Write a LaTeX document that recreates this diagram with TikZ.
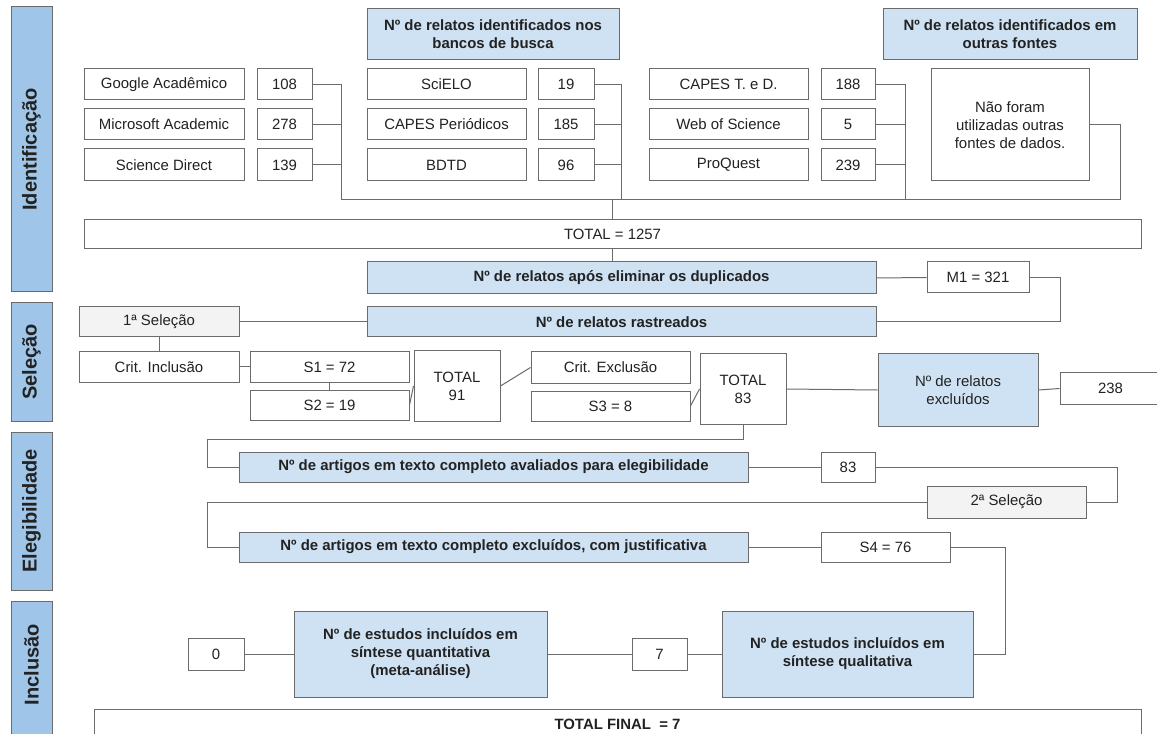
\documentclass[tikz,border=0pt]{standalone}
\usepackage{fontspec}
\setmainfont{Liberation Sans}
\usepackage{graphicx}
\definecolor{barblue}{HTML}{9FC5E8}
\definecolor{boxblue}{HTML}{CFE2F3}
\definecolor{boxgray}{HTML}{F3F3F3}
\definecolor{edgegray}{HTML}{6B6B6B}
\definecolor{ink}{HTML}{222222}
\begin{document}
\begin{tikzpicture}[x=0.75pt,y=-0.75pt,
  every node/.style={font=\fontsize{11.2}{13.5}\selectfont, text=ink},
  spanbox/.style n args={4}{at={({(#1+#3)/2},{(#2+#4)/2})},
     minimum width={(#3-#1)*0.75pt}, minimum height={(#4-#2)*0.75pt}},
  basebox/.style={draw=edgegray, line width=0.75pt, inner sep=0pt, align=center, anchor=center},
  whitebox/.style={basebox, fill=white},
  graybox/.style={basebox, fill=boxgray},
  bluebox/.style={basebox, fill=boxblue, font=\fontsize{11.2}{13.5}\selectfont\bfseries},
  bluereg/.style={basebox, fill=boxblue},
  sidebar/.style={basebox, fill=barblue, font=\fontsize{15}{18}\selectfont\bfseries},
  conn/.style={draw=edgegray, line width=0.75pt}]
\useasboundingbox (0,0) rectangle (1157,734);
\clip (0,0) rectangle (1157,734);
\fill[white] (0,0) rectangle (1157,734);

% side bars
\node[sidebar, spanbox={11}{7}{52}{292}] (sid) {\rotatebox{90}{Identificação}};
\node[sidebar, spanbox={11}{303}{52}{421}] (ssel) {\rotatebox{90}{Seleção}};
\node[sidebar, spanbox={11}{432}{52}{590}] (seleg) {\rotatebox{90}{Elegibilidade}};
\node[sidebar, spanbox={11}{601}{52}{728}] (sinc) {\rotatebox{90}{Inclusão}};
\draw[draw=edgegray, line width=0.75pt, fill=barblue] (11,727) rectangle (52,745);
\fill[barblue] (11.5,722) rectangle (51.5,745);

% headers
\node[bluebox, spanbox={367}{9}{619}{60}] (h1) {Nº de relatos identificados nos\\bancos de busca};
\node[bluebox, spanbox={883}{9}{1137}{60}] (h2) {Nº de relatos identificados em\\outras fontes};

% column 1
\node[whitebox, spanbox={84}{69}{244}{100}] (goog) {Google Acadêmico};
\node[whitebox, spanbox={84}{109}{244}{140}] (micr) {Microsoft Academic};
\node[whitebox, spanbox={84}{149}{244}{181}] (scid) {Science Direct};
\node[whitebox, spanbox={257}{69}{312}{100}] (n108) {108};
\node[whitebox, spanbox={257}{109}{312}{140}] (n278) {278};
\node[whitebox, spanbox={257}{149}{312}{181}] (n139) {139};
% column 2
\node[whitebox, spanbox={367}{69}{526}{100}] (scie) {SciELO};
\node[whitebox, spanbox={367}{109}{526}{140}] (capp) {CAPES Periódicos};
\node[whitebox, spanbox={367}{149}{526}{181}] (bdtd) {BDTD};
\node[whitebox, spanbox={538}{69}{594}{100}] (n19) {19};
\node[whitebox, spanbox={538}{109}{594}{140}] (n185) {185};
\node[whitebox, spanbox={538}{149}{594}{181}] (n96) {96};
% column 3
\node[whitebox, spanbox={649}{69}{808}{100}] (capt) {CAPES T. e D.};
\node[whitebox, spanbox={649}{109}{808}{140}] (wos) {Web of Science};
\node[whitebox, spanbox={649}{149}{808}{181}] (proq) {ProQuest};
\node[whitebox, spanbox={821}{69}{875}{100}] (n188) {188};
\node[whitebox, spanbox={821}{109}{875}{140}] (n5) {5};
\node[whitebox, spanbox={821}{149}{875}{181}] (n239) {239};
\node[whitebox, spanbox={931}{69}{1089}{181}] (nao) {Não foram\\utilizadas outras\\fontes de dados.};

\node[whitebox, spanbox={84}{220}{1141}{249}] (tot) {TOTAL = 1257};

% selection
\node[bluebox, spanbox={367}{262}{876}{294}] (dup) {Nº de relatos após eliminar os duplicados};
\node[whitebox, spanbox={927}{262}{1029}{293}] (m1) {M1 = 321};
\node[bluebox, spanbox={367}{307}{876}{337}] (rast) {Nº de relatos rastreados};
\node[graybox, spanbox={79}{307}{239}{337}] (sel1) {1ª Seleção};
\node[whitebox, spanbox={79}{352}{239}{382}] (ci) {Crit. Inclusão};
\node[whitebox, spanbox={250}{352}{409}{382}] (s1) {S1 = 72};
\node[whitebox, spanbox={250}{390}{409}{420}] (s2) {S2 = 19};
\node[whitebox, spanbox={414}{351}{500}{421}] (t91) {TOTAL\\91};
\node[whitebox, spanbox={531}{352}{690}{383}] (ce) {Crit. Exclusão};
\node[whitebox, spanbox={531}{391}{690}{421}] (s3) {S3 = 8};
\node[whitebox, spanbox={700}{354}{786}{424}] (t83) {TOTAL\\83};
\node[bluereg, spanbox={878}{354}{1038}{426}] (ex) {Nº de relatos\\excluídos};
\node[whitebox, spanbox={1060}{373}{1161}{404}] (n238) {238};

% eligibility
\node[bluebox, spanbox={239}{452}{748}{482}] (av) {Nº de artigos em texto completo avaliados para elegibilidade};
\node[whitebox, spanbox={821}{452}{875}{482}] (n83) {83};
\node[graybox, spanbox={927}{486}{1086}{518}] (sel2) {2ª Seleção};
\node[bluebox, spanbox={239}{532}{748}{562}] (ex2) {Nº de artigos em texto completo excluídos, com justificativa};
\node[whitebox, spanbox={821}{532}{950}{562}] (s4) {S4 = 76};

% inclusion
\node[bluebox, spanbox={722}{611}{973}{697}] (qual) {Nº de estudos incluídos em\\síntese qualitativa};
\node[whitebox, spanbox={632}{638}{687}{670}] (n7) {7};
\node[bluebox, spanbox={294}{611}{547}{697}] (quant) {Nº de estudos incluídos em\\síntese quantitativa\\(meta-análise)};
\node[whitebox, spanbox={188}{638}{244}{670}] (n0) {0};
\node[whitebox, spanbox={94}{709}{1141}{740}, font=\fontsize{11.2}{13.5}\selectfont\bfseries] (tf) {TOTAL FINAL\ \ = 7};

% connectors
\coordinate (b1) at (341,200);
\coordinate (b2) at (621,200);
\coordinate (b3) at (905,200);
\coordinate (b4) at (1120,200);
\draw[conn] (n108.east) -| (b1);
\draw[conn] (n278.east) -- (n278.east -| b1);
\draw[conn] (n139.east) -- (n139.east -| b1);
\draw[conn] (n19.east) -| (b2);
\draw[conn] (n185.east) -- (n185.east -| b2);
\draw[conn] (n96.east) -- (n96.east -| b2);
\draw[conn] (n188.east) -| (b3);
\draw[conn] (n5.east) -- (n5.east -| b3);
\draw[conn] (n239.east) -- (n239.east -| b3);
\draw[conn] (b1) -- (b4) |- (nao.east);
\draw[conn] (tot.north) -- (tot.north |- b1);
\draw[conn] (tot.south) -- (tot.south |- dup.north);
\draw[conn] (dup.east) -- (m1.west);
\coordinate (mr) at (1060,0);
\draw[conn] (m1.east) -| (mr |- rast.east) -- (rast.east);
\draw[conn] (sel1.east) -- (rast.west);
\draw[conn] (sel1.south) -- (ci.north);
\draw[conn] (ci.east) -- (s1.west);
\draw[conn] (s1.south) -- (s2.north);
\draw[conn] (s2.east) -- (t91.west);
\draw[conn] (t91.east) -- (ce.west);
\draw[conn] (s3.east) -- (t83.west);
\draw[conn] (t83.east) -- (ex.west);
\draw[conn] (ex.east) -- (n238.west);
\coordinate (lx) at (207,439);
\draw[conn] (t83.south) |- (lx) |- (av.west);
\draw[conn] (av.east) -- (n83.west);
\coordinate (rx) at (1117,0);
\draw[conn] (n83.east) -| (rx |- sel2.east) -- (sel2.east);
\draw[conn] (sel2.west) -| (lx |- ex2.west) -- (ex2.west);
\draw[conn] (ex2.east) -- (s4.west);
\coordinate (qx) at (1005,0);
\draw[conn] (s4.east) -| (qx |- qual.east) -- (qual.east);
\draw[conn] (n7.east) -- (qual.west);
\draw[conn] (quant.east) -- (n7.west);
\draw[conn] (n0.east) -- (quant.west);
\end{tikzpicture}
\end{document}
